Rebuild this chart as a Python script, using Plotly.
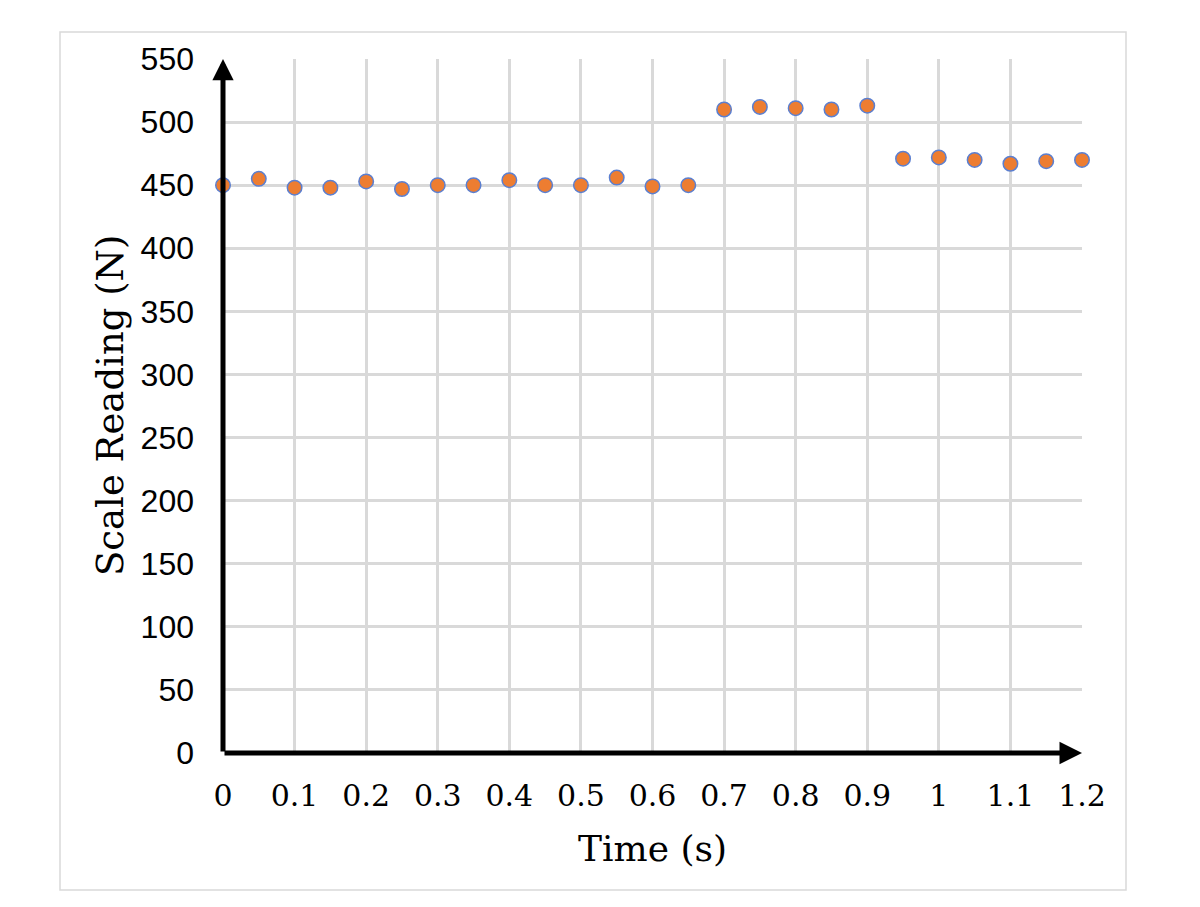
import plotly.graph_objects as go

time_s = [0, 0.05, 0.1, 0.15, 0.2, 0.25, 0.3, 0.35, 0.4, 0.45, 0.5, 0.55, 0.6, 0.65,
          0.7, 0.75, 0.8, 0.85, 0.9, 0.95, 1.0, 1.05, 1.1, 1.15, 1.2]
reading_n = [450, 455, 448, 448, 453, 447, 450, 450, 454, 450, 450, 456, 449, 450,
             510, 512, 511, 510, 513, 471, 472, 470, 467, 469, 470]
x_ticks = [0, 0.1, 0.2, 0.3, 0.4, 0.5, 0.6, 0.7, 0.8, 0.9, 1.0, 1.1, 1.2]
x_tick_text = ["0", "0.1", "0.2", "0.3", "0.4", "0.5", "0.6", "0.7", "0.8", "0.9", "1", "1.1", "1.2"]
y_ticks = list(range(0, 551, 50))

serif = "DejaVu Serif"
sans = "Liberation Sans, Arial, sans-serif"

fig = go.Figure()
fig.add_trace(go.Scatter(
    x=time_s, y=reading_n, mode="markers",
    marker=dict(size=14.5, color="#ED7D31", line=dict(color="#5B7FD0", width=1.5)),
    cliponaxis=False, showlegend=False,
))

fig.update_layout(
    width=1200, height=907,
    margin=dict(l=223, r=118, t=59, b=154),
    paper_bgcolor="white", plot_bgcolor="white",
    xaxis=dict(range=[0, 1.2], tickvals=x_ticks, ticktext=x_tick_text,
               showgrid=True, gridcolor="#D9D9D9", gridwidth=3,
               zeroline=False, showline=False, ticks="",
               ticklabelstandoff=22,
               tickfont=dict(family=serif, size=30, color="black")),
    yaxis=dict(range=[0, 550], tickvals=y_ticks,
               showgrid=True, gridcolor="#D9D9D9", gridwidth=3,
               zeroline=False, showline=False, ticks="",
               ticklabelstandoff=28,
               tickfont=dict(family=sans, size=32, color="black")),
    shapes=[dict(type="rect", xref="paper", yref="paper",
                 x0=(60 - 223) / 859, x1=(1126 - 223) / 859,
                 y0=(753 - 890) / 694, y1=(753 - 32) / 694,
                 line=dict(color="#D9D9D9", width=1.5), layer="below")],
    annotations=[
        dict(x=1.2, y=0, ax=0, ay=0, xref="x", yref="y", axref="x", ayref="y",
             showarrow=True, arrowhead=2, arrowsize=0.9, arrowwidth=5, arrowcolor="black",
             text=""),
        dict(x=0, y=550, ax=0, ay=0, xref="x", yref="y", axref="x", ayref="y",
             showarrow=True, arrowhead=2, arrowsize=0.85, arrowwidth=5, arrowcolor="black",
             text=""),
        dict(x=0.5, y=-0.137, xref="paper", yref="paper", text="Time (s)",
             showarrow=False, font=dict(family=serif, size=36, color="black"),
             xanchor="center", yanchor="middle"),
        dict(x=-0.1315, y=0.5, xref="paper", yref="paper", text="Scale Reading (N)",
             showarrow=False, textangle=-90,
             font=dict(family=serif, size=37, color="black"),
             xanchor="center", yanchor="middle"),
    ],
)

fig.write_html("out.html")
